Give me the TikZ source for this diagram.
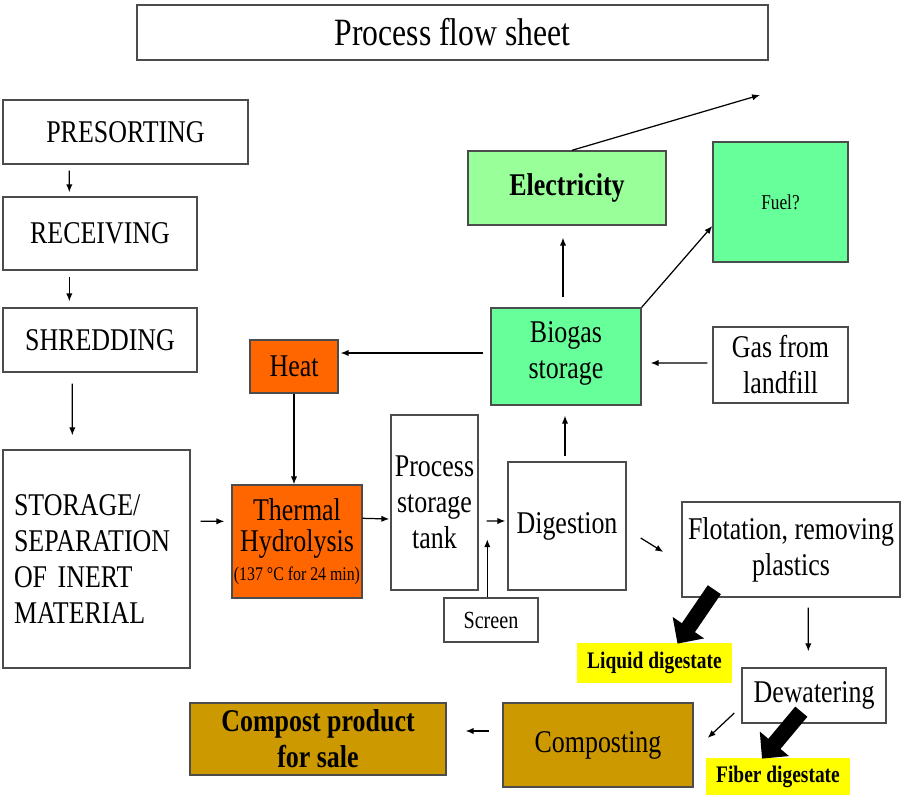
\documentclass[tikz,border=0pt]{standalone}
\usepackage{fontspec}
\setmainfont{Liberation Serif}[FakeStretch=0.82]
\usepackage{tikz}
\usetikzlibrary{calc,arrows.meta}
\definecolor{heatorange}{HTML}{FF6600}
\definecolor{gasgreen}{HTML}{66FF99}
\definecolor{powgreen}{HTML}{99FF99}
\definecolor{compbrown}{HTML}{CC9900}
\definecolor{digyellow}{HTML}{FFFF00}
\newcommand{\fbig}{\fontsize{18}{20.5}\selectfont}
\newcommand{\ftitle}{\fontsize{22}{24}\selectfont}
\newcommand{\fmid}{\fontsize{13.5}{15}\selectfont}
\newcommand{\fsmall}{\fontsize{11}{12}\selectfont}

\begin{document}
\begin{tikzpicture}[x=0.02cm,y=-0.02cm,
    box/.style={draw=black!70,line width=0.8pt,inner sep=0pt,align=center,font=\fbig},
    tag/.style={fill=digyellow,inner sep=0pt,align=center,font=\fmid\bfseries},
    arr/.style={-{Latex[length=4.5pt,width=3.6pt]},line width=0.7pt},
    fatarr/.style={-{Triangle[length=11pt,width=21pt]},line width=9pt}]
  \useasboundingbox (0,0) rectangle (902,797);
  % boxes
  \node[box,minimum width=12.62cm,minimum height=1.1cm,font=\ftitle] (title) at (452.5,32.5) {Process flow sheet};
  \node[box,minimum width=4.9cm,minimum height=1.28cm] (pre) at (125.5,132) {PRESORTING};
  \node[box,minimum width=3.88cm,minimum height=1.46cm] (rec) at (100,233.5) {RECEIVING};
  \node[box,minimum width=3.88cm,minimum height=1.28cm] (shr) at (100,340) {SHREDDING};
  \node[box,minimum width=3.74cm,minimum height=4.36cm,align=left,text width=3.3cm] (sto) at (96.5,559) {STORAGE/\\SEPARATION\\OF INERT\\MATERIAL};
  \node[box,fill=heatorange,minimum width=1.76cm,minimum height=1.06cm] (heat) at (294,366.5) {Heat};
  \node[box,fill=heatorange,minimum width=2.6cm,minimum height=2.26cm] (thy) at (297,541.5) {\\[-8pt]Thermal\\[-3pt]Hydrolysis\\[-4pt]{\fsmall(137 °C for 24 min)}};
  \node[box,minimum width=1.74cm,minimum height=3.5cm] (pst) at (434.5,502.5) {Process\\storage\\tank};
  \node[box,minimum width=2.36cm,minimum height=2.56cm] (dig) at (567,526) {Digestion};
  \node[box,minimum width=1.88cm,minimum height=0.88cm,font=\fontsize{14}{16}\selectfont] (scr) at (491,620) {Screen};
  \node[box,fill=gasgreen,minimum width=3cm,minimum height=1.94cm] (bio) at (566,356.5) {\\[-12pt]Biogas\\storage};
  \node[box,fill=powgreen,minimum width=3.96cm,minimum height=1.48cm,font=\fbig\bfseries] (ele) at (567,188) {Electricity};
  \node[box,fill=gasgreen,minimum width=2.7cm,minimum height=2.4cm,font=\fontsize{12}{14}\selectfont] (fuel) at (780.5,202) {Fuel?};
  \node[box,minimum width=2.7cm,minimum height=1.52cm] (gas) at (780.5,365) {Gas from\\landfill};
  \node[box,minimum width=4.36cm,minimum height=1.9cm] (flo) at (791,549.5) {Flotation, removing\\plastics};
  \node[tag,minimum width=3.1cm,minimum height=0.8cm] (liq) at (654.5,663) {Liquid digestate};
  \node[box,minimum width=2.88cm,minimum height=1.1cm] (dew) at (814,695.5) {Dewatering};
  \node[tag,minimum width=2.88cm,minimum height=0.74cm] (fib) at (778,776.5) {Fiber digestate};
  \node[box,fill=compbrown,minimum width=3.8cm,minimum height=1.68cm] (com) at (598,745) {Composting};
  \node[box,fill=compbrown,minimum width=5.12cm,minimum height=1.44cm,font=\fbig\bfseries] (cps) at (318,739) {Compost product\\for sale};
  \coordinate (outlet) at (760,95);
  % connectors
  \draw[arr] ($(pre.south west)+(67,6)$) -- ($(rec.north west)+(67,-4)$);
  \draw[arr] ($(rec.south west)+(67,6)$) -- ($(shr.north west)+(67,-6)$);
  \draw[arr] ($(shr.south west)+(70,11)$) -- ($(sto.north west)+(70,-14)$);
  \draw[arr] ($(sto.north east)+(10,72)$) -- ($(thy.north west)+(-7,37)$);
  \draw[arr] (heat.south) -- (heat.south |- thy.north);
  \draw[arr] ($(thy.north east)+(0,34)$) -- ($(pst.west)+(-1,16.5)$);
  \draw[arr] ($(pst.east)+(8,18.5)$) -- ($(dig.west)+(-2,-5)$);
  \draw[arr] ($(scr.north west)+(44,0)$) -- ($(scr.north west)+(44,-58)$);
  \draw[arr] ($(dig.north)+(-2,-5)$) -- ($(bio.south)+(-1,10)$);
  \draw[arr] ($(bio.west)+(-7,-3.5)$) -- ($(heat.east)+(2,-13.5)$);
  \draw[arr] ($(gas.west)+(-5,-2)$) -- ($(bio.east)+(9,6.5)$);
  \draw[arr] ($(bio.north)+(-3,-10)$) -- ($(ele.south)+(-4,12)$);
  \draw[arr] (bio.north east) -- ($(fuel.west)+(0,24)$);
  \draw[arr] ($(ele.north)+(5,0)$) -- (outlet);
  \draw[arr] ($(dig.east)+(14,12)$) -- ($(flo.west)+(-18,2.5)$);
  \draw[arr] ($(flo.south west)+(127,10)$) -- ($(dew.north west)+(67,-16)$);
  \draw[arr] ($(dew.west)+(-7,17.5)$) -- ($(com.east)+(14,-7)$);
  \draw[arr] ($(com.west)+(-13,-14)$) -- ($(cps.east)+(19,-8)$);
  \draw[fatarr] ($(flo.south west)+(33,-8)$) -- ($(liq.north)+(23,1)$);
  \draw[fatarr] ($(dew.south west)+(60,-12)$) -- ($(fib.north)+(-16,1)$);
\end{tikzpicture}
\end{document}
